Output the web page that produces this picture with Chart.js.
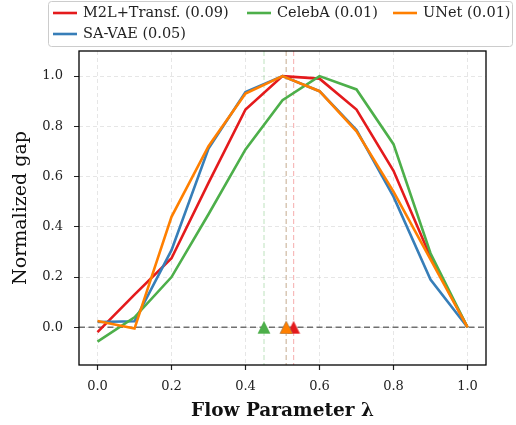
<!DOCTYPE html>
<html>
<head>
<meta charset="utf-8">
<script src="https://cdn.jsdelivr.net/npm/chart.js@4.4.1/dist/chart.umd.min.js"></script>
<style>
  html, body { margin: 0; padding: 0; background: #fff; }
  #wrap { width: 516px; height: 425px; }
</style>
</head>
<body>
<div id="wrap"><canvas id="c" width="516" height="425"></canvas></div>
<script>
// flow parameter values (x axis)
const lambdas = [0.0, 0.1, 0.2, 0.3, 0.4, 0.5, 0.6, 0.7, 0.8, 0.9, 1.0];
const xTicks = [0.0, 0.2, 0.4, 0.6, 0.8, 1.0];
const yTicks = [0.0, 0.2, 0.4, 0.6, 0.8, 1.0];

// normalized gap per model
const m2lGap = [-0.019, 0.13, 0.275, 0.575, 0.867, 1.0, 0.99, 0.867, 0.623, 0.28, 0.0];
const saVaeGap = [0.021, 0.024, 0.307, 0.712, 0.937, 1.0, 0.94, 0.785, 0.52, 0.19, 0.0];
const celebaGap = [-0.057, 0.04, 0.20, 0.45, 0.708, 0.904, 1.0, 0.947, 0.729, 0.295, 0.0];
const unetGap = [0.025, -0.005, 0.44, 0.721, 0.931, 1.0, 0.94, 0.78, 0.54, 0.27, 0.0];

// order: M2L+Transf., SA-VAE, CelebA, UNet
const modelNames = ['M2L+Transf.', 'SA-VAE', 'CelebA', 'UNet'];
const modelScores = ['0.09', '0.05', '0.01', '0.01'];
const crossings = [0.53, 0.51, 0.45, 0.51];   // estimated lambda where gap crosses
const modelColors = ['#e41a1c', '#377eb8', '#4daf4a', '#ff7f00'];
const gaps = [m2lGap, saVaeGap, celebaGap, unetGap];

const serif = "'DejaVu Serif', serif";

const alpha = (hex, a) => {
    const n = parseInt(hex.slice(1), 16);
    return `rgba(${n >> 16},${(n >> 8) & 255},${n & 255},${a})`;
};

// triangle marker with its bbox centered on the point (like matplotlib '^')
const triangle = function (color) {
    const cv = document.createElement('canvas');
    cv.width = 14;
    cv.height = 14;
    const g = cv.getContext('2d');
    g.fillStyle = color;
    g.beginPath();
    g.moveTo(7, 0.5);
    g.lineTo(13.5, 13.5);
    g.lineTo(0.5, 13.5);
    g.closePath();
    g.fill();
    return cv;
};

const lineSets = gaps.map((vals, i) => ({
    type: 'line',
    label: modelNames[i],
    data: lambdas.map((x, j) => ({x: x, y: vals[j]})),
    borderColor: modelColors[i],
    backgroundColor: modelColors[i],
    borderWidth: 2.6,
    pointRadius: 0,
    tension: 0,
    fill: false,
    order: 4 - i
}));

const markerSet = {
    type: 'scatter',
    label: 'crossing',
    data: crossings.map((x) => ({x: x, y: 0})),
    pointStyle: modelColors.map(triangle),
    pointRadius: 7,
    order: -1
};

const refLines = {
    id: 'refLines',
    beforeDatasetsDraw(chart) {
        const {ctx, chartArea, scales: {x, y}} = chart;
        ctx.save();
        ctx.lineWidth = 1.2;
        ctx.setLineDash([5, 3]);
        crossings.forEach((c, i) => {
            const px = x.getPixelForValue(c);
            ctx.strokeStyle = alpha(modelColors[i], 0.3);
            ctx.beginPath();
            ctx.moveTo(px, chartArea.top);
            ctx.lineTo(px, chartArea.bottom);
            ctx.stroke();
        });
        const py = y.getPixelForValue(0);
        ctx.strokeStyle = 'rgba(90,90,90,0.85)';
        ctx.lineWidth = 1.4;
        ctx.setLineDash([6, 3.5]);
        ctx.beginPath();
        ctx.moveTo(chartArea.left, py);
        ctx.lineTo(chartArea.right, py);
        ctx.stroke();
        ctx.restore();
    }
};

const frameAndLegend = {
    id: 'frameAndLegend',
    afterDraw(chart) {
        const {ctx, chartArea} = chart;
        ctx.save();
        ctx.strokeStyle = '#000';
        ctx.lineWidth = 1.3;
        ctx.setLineDash([]);
        ctx.strokeRect(chartArea.left, chartArea.top, chartArea.right - chartArea.left, chartArea.bottom - chartArea.top);

        // legend box
        ctx.fillStyle = 'rgba(255,255,255,0.85)';
        ctx.strokeStyle = '#cccccc';
        ctx.lineWidth = 1;
        ctx.beginPath();
        ctx.roundRect(48.5, 1.5, 464, 45, 3);
        ctx.fill();
        ctx.stroke();

        // column-major like matplotlib ncol=3
        const slots = [[53, 13], [53, 34], [247, 13], [393, 13]];
        ctx.font = '14.5px ' + serif;
        ctx.textBaseline = 'middle';
        modelNames.forEach((name, i) => {
            const [sx, sy] = slots[i];
            ctx.strokeStyle = modelColors[i];
            ctx.lineWidth = 2.6;
            ctx.beginPath();
            ctx.moveTo(sx, sy);
            ctx.lineTo(sx + 24, sy);
            ctx.stroke();
            ctx.fillStyle = '#222';
            ctx.fillText(`${name} (${modelScores[i]})`, sx + 30, sy + 0.5);
        });
        ctx.restore();
    }
};

new Chart(document.getElementById('c'), {
    data: {datasets: [...lineSets, markerSet]},
    options: {
        responsive: false,
        animation: false,
        layout: {padding: {top: 51, right: 30, left: 0, bottom: 0}},
        plugins: {legend: {display: false}, tooltip: {enabled: false}},
        scales: {
            x: {
                type: 'linear',
                min: -0.05,
                max: 1.05,
                afterBuildTicks: (s) => { s.ticks = xTicks.map((v) => ({value: v})); },
                afterFit: (s) => { s.height = 60; },
                ticks: {
                    font: {family: serif, size: 13},
                    color: '#222',
                    padding: 9,
                    maxRotation: 0,
                    autoSkip: false,
                    callback: (v) => v.toFixed(1)
                },
                grid: {
                    color: 'rgba(200,200,200,0.45)',
                    lineWidth: 1,
                    tickColor: '#222',
                    tickLength: 5,
                    tickWidth: 1.2,
                    tickBorderDash: [1, 0]
                },
                border: {display: false, dash: [4, 3]},
                title: {
                    display: true,
                    text: 'Flow Parameter λ',
                    font: {family: serif, size: 18.5, weight: 'bold'},
                    color: '#111',
                    padding: {top: 0, bottom: 3}
                }
            },
            y: {
                type: 'linear',
                min: -0.15,
                max: 1.1,
                afterBuildTicks: (s) => { s.ticks = yTicks.map((v) => ({value: v})); },
                afterFit: (s) => { s.width = 79; },
                ticks: {
                    font: {family: serif, size: 13},
                    color: '#222',
                    padding: 11,
                    autoSkip: false,
                    callback: (v) => v.toFixed(1)
                },
                grid: {
                    color: 'rgba(200,200,200,0.45)',
                    lineWidth: 1,
                    tickColor: '#222',
                    tickLength: 5,
                    tickWidth: 1.2,
                    tickBorderDash: [1, 0]
                },
                border: {display: false, dash: [4, 3]},
                title: {
                    display: true,
                    text: 'Normalized gap',
                    font: {family: serif, size: 19},
                    color: '#111',
                    padding: {top: 10, bottom: 0}
                }
            }
        }
    },
    plugins: [refLines, frameAndLegend]
});
</script>
</body>
</html>
